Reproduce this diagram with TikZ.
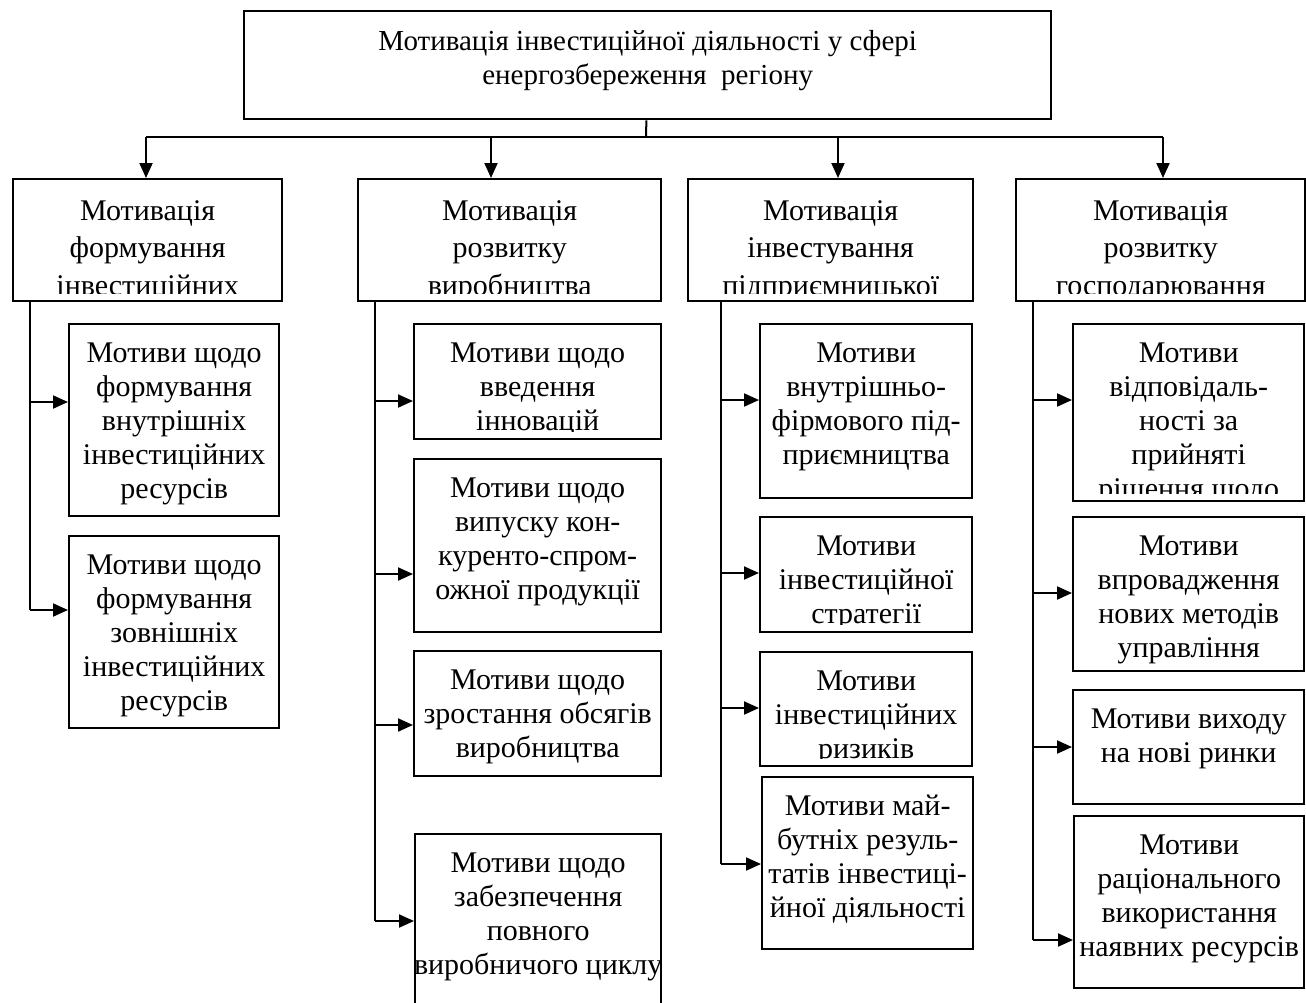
\documentclass[tikz,border=0pt]{standalone}
\usepackage{fontspec}
\setmainfont{Liberation Serif}
\usetikzlibrary{arrows.meta}

\tikzstyle{topbox} = [rectangle, draw, line width=1.2pt, anchor=north west,
inner sep=0pt, minimum width=403.5pt, minimum height=54pt]
\tikzstyle{headbox} = [rectangle, draw, line width=1.2pt, anchor=north west,
inner sep=0pt, minimum height=61pt]
\tikzstyle{motivebox} = [rectangle, draw, line width=1.2pt, anchor=north west,
inner sep=0pt]
\tikzstyle{boxlabel} = [align=center, anchor=north, inner sep=0pt, draw=none,
minimum width=0pt, minimum height=0pt]
\tikzstyle{link} = [line width=1pt, draw]
\tikzstyle{arrow} = [line width=1pt, -{Triangle[length=7.5pt,width=6.5pt]}, draw]

\tikzset{
	toptext/.style={path picture={
		\node[boxlabel, font=\fontsize{14.5}{17}\selectfont] at ([yshift=-9pt]path picture bounding box.north) {#1};}},
	headtext/.style={path picture={
		\clip (path picture bounding box.north west) rectangle ([yshift=4pt]path picture bounding box.south east);
		\node[boxlabel, font=\fontsize{15}{18.75}\selectfont] at ([yshift=-10pt]path picture bounding box.north) {#1};}},
	motivetext/.style={path picture={
		\clip (path picture bounding box.north west) rectangle ([yshift=4pt]path picture bounding box.south east);
		\node[boxlabel, font=\fontsize{15}{17}\selectfont] at ([yshift=-8.5pt]path picture bounding box.north) {#1};}}
}

\begin{document}
\begin{tikzpicture}[x=0.5pt, y=-0.5pt]
	\useasboundingbox (0,0) rectangle (1306,1002);
	\clip (0,0) rectangle (1306,1002);

	%top node
	\node[topbox, toptext={Мотивація інвестиційної діяльності у сфері\\енергозбереження\ \ регіону}] (top) at (243,10) {};

	%nodes for headings
	\node[headbox, minimum width=134.5pt, headtext={Мотивація\\формування\\інвестиційних}] (forming) at (12,178) {};
	\node[headbox, minimum width=151.5pt, headtext={Мотивація\\розвитку\\виробництва}] (production) at (357,178) {};
	\node[headbox, minimum width=142.5pt, headtext={Мотивація\\інвестування\\підприємницької}] (enterprise) at (687,178) {};
	\node[headbox, minimum width=144.5pt, headtext={Мотивація\\розвитку\\господарювання}] (management) at (1015,178) {};

	%nodes for forming
	\node[motivebox, minimum width=105pt, minimum height=96pt, motivetext={Мотиви щодо\\формування\\внутрішніх\\інвестиційних\\ресурсів}] (forming1) at (68,323) {};
	\node[motivebox, minimum width=105pt, minimum height=96pt, motivetext={Мотиви щодо\\формування\\зовнішніх\\інвестиційних\\ресурсів}] (forming2) at (68,535) {};

	%nodes for production
	\node[motivebox, minimum width=123.5pt, minimum height=57.5pt, motivetext={Мотиви щодо\\введення\\інновацій}] (production1) at (413,323) {};
	\node[motivebox, minimum width=123.5pt, minimum height=86.5pt, motivetext={Мотиви щодо\\випуску кон-\\куренто-спром-\\ожної продукції}] (production2) at (413,458) {};
	\node[motivebox, minimum width=123.5pt, minimum height=62.5pt, motivetext={Мотиви щодо\\зростання обсягів\\виробництва}] (production3) at (413,650) {};
	\node[motivebox, minimum width=123pt, minimum height=91pt, motivetext={Мотиви щодо\\забезпечення\\повного\\виробничого циклу}] (production4) at (414,833) {};

	%nodes for enterprise
	\node[motivebox, minimum width=106pt, minimum height=87pt, motivetext={Мотиви\\внутрішньо-\\фірмового під-\\приємництва}] (enterprise1) at (759,323) {};
	\node[motivebox, minimum width=106pt, minimum height=57.5pt, motivetext={Мотиви\\інвестиційної\\стратегії}] (enterprise2) at (759,516) {};
	\node[motivebox, minimum width=106pt, minimum height=57pt, motivetext={Мотиви\\інвестиційних\\ризиків}] (enterprise3) at (759,651) {};
	\node[motivebox, minimum width=105.5pt, minimum height=86pt, motivetext={Мотиви май-\\бутніх резуль-\\татів інвестиці-\\йної діяльності}] (enterprise4) at (761,776) {};

	%nodes for management
	\node[motivebox, minimum width=115.5pt, minimum height=88.5pt, motivetext={Мотиви\\відповідаль-\\ності за\\прийняті\\рішення щодо}] (management1) at (1072,323) {};
	\node[motivebox, minimum width=115.5pt, minimum height=77pt, motivetext={Мотиви\\впровадження\\нових методів\\управління}] (management2) at (1072,516) {};
	\node[motivebox, minimum width=115.5pt, minimum height=57pt, motivetext={Мотиви виходу\\на нові ринки}] (management3) at (1072,689) {};
	\node[motivebox, minimum width=115pt, minimum height=86pt, motivetext={Мотиви\\раціонального\\використання\\наявних ресурсів}] (management4) at (1073,815) {};

	%edges
	\coordinate (bus) at (646,137);
	\coordinate (b1) at (146,137);
	\coordinate (b2) at (491,137);
	\coordinate (b3) at (838,137);
	\coordinate (b4) at (1163,137);
	\path[link] (top) -- (bus);
	\path[link] (b1) -- (b4);
	\path[arrow] (b1) -- (b1 |- forming.north);
	\path[arrow] (b2) -- (b2 |- production.north);
	\path[arrow] (b3) -- (b3 |- enterprise.north);
	\path[arrow] (b4) -- (b4 |- management.north);

	\coordinate (f1) at (30,402);
	\coordinate (f2) at (30,610);
	\path[link] (forming.south -| f2) -- (f2);
	\path[arrow] (f1) -- (forming1.west |- f1);
	\path[arrow] (f2) -- (forming2.west |- f2);

	\coordinate (p1) at (375,401);
	\coordinate (p2) at (375,574);
	\coordinate (p3) at (375,725);
	\coordinate (p4) at (375,921);
	\path[link] (production.south -| p4) -- (p4);
	\path[arrow] (p1) -- (production1.west |- p1);
	\path[arrow] (p2) -- (production2.west |- p2);
	\path[arrow] (p3) -- (production3.west |- p3);
	\path[arrow] (p4) -- (production4.west |- p4);

	\coordinate (e1) at (721,400);
	\coordinate (e2) at (721,573);
	\coordinate (e3) at (721,708);
	\coordinate (e4) at (721,864);
	\path[link] (enterprise.south -| e4) -- (e4);
	\path[arrow] (e1) -- (enterprise1.west |- e1);
	\path[arrow] (e2) -- (enterprise2.west |- e2);
	\path[arrow] (e3) -- (enterprise3.west |- e3);
	\path[arrow] (e4) -- (enterprise4.west |- e4);

	\coordinate (m1) at (1033,400);
	\coordinate (m2) at (1033,593);
	\coordinate (m3) at (1033,747);
	\coordinate (m4) at (1033,940);
	\path[link] (management.south -| m4) -- (m4);
	\path[arrow] (m1) -- (management1.west |- m1);
	\path[arrow] (m2) -- (management2.west |- m2);
	\path[arrow] (m3) -- (management3.west |- m3);
	\path[arrow] (m4) -- (management4.west |- m4);
\end{tikzpicture}
\end{document}
